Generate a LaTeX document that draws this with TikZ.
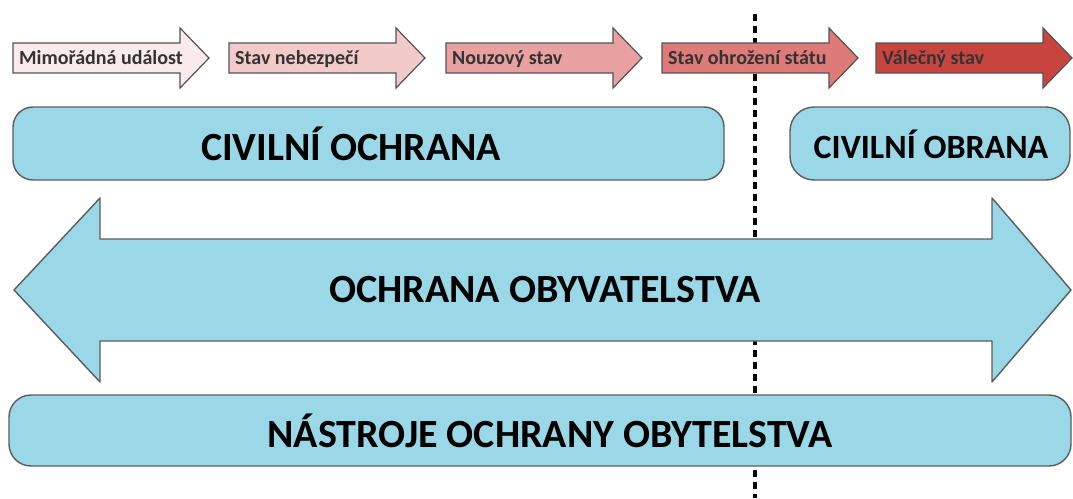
\documentclass[tikz,border=0pt]{standalone}
\usepackage{fontspec}
\setmainfont{Carlito}
\usepackage{tikz}
\usepackage{xcolor}

\definecolor{stepA}{HTML}{F9EBEB}
\definecolor{stepB}{HTML}{F3CACA}
\definecolor{stepC}{HTML}{E8A1A0}
\definecolor{stepD}{HTML}{DE7A78}
\definecolor{stepE}{HTML}{C8443F}
\definecolor{boxblue}{HTML}{9AD8E8}
\definecolor{boxline}{HTML}{5C5C5C}

\tikzset{
  steparrow/.style={draw=boxline!90!black, line width=1.2pt, line join=miter},
  steptext/.style={anchor=base west, inner sep=0pt, text=black!80, font=\fontsize{20}{22}\selectfont\bfseries},
  bluebox/.style={draw=boxline, fill=boxblue, line width=1.4pt, rounded corners=#1},
  bigtext/.style={inner sep=0pt, font=\fontsize{40}{44}\selectfont\bfseries},
  divider/.style={line width=3.5pt, dash pattern=on 7pt off 5pt}
}

\begin{document}
\begin{tikzpicture}[x=1pt, y=-1pt]
\useasboundingbox (0,0) rectangle (1073,498);
%% dividing line (behind everything)
\coordinate (divTop) at (755,14);
\coordinate (divBot) at (755,498);
\draw[divider] (divTop) -- (divBot);
%% steps of the crisis
\foreach \x/\c/\t [count=\i] in {13/stepA/{Mimořádná událost}, 229/stepB/{Stav nebezpečí},
    446/stepC/{Nouzový stav}, 662/stepD/{Stav ohrožení státu}, 876/stepE/{Válečný stav}}{
  \filldraw[steparrow, fill=\c] (\x,43) -- ++(167,0) -- ++(0,-15) -- ++(29,30)
     -- ++(-29,30) -- ++(0,-15) -- ++(-167,0) -- cycle;
  \node[steptext] (step\i) at (\x+6,64) {\t};
}
%% civil protection / civil defence
\draw[bluebox=20pt] (13,107) rectangle (724,180);
\node[bigtext] (civOchrana) at (351,144) {CIVILNÍ OCHRANA};
\draw[bluebox=24pt] (790,107) rectangle (1070,180);
\node[bigtext, font=\fontsize{34}{38}\selectfont\bfseries] (civObrana) at (931,144) {CIVILNÍ OBRANA};
%% population protection
\filldraw[draw=boxline, fill=boxblue, line width=1.4pt, line join=round]
  (14,290) -- (100,198) -- (100,239) -- (992,239) -- (992,198) -- (1071,290)
  -- (992,382) -- (992,341) -- (100,341) -- (100,382) -- cycle;
\node[bigtext] (ochranaObyv) at (545,290) {OCHRANA OBYVATELSTVA};
%% tools
\draw[bluebox=22pt] (9,395) rectangle (1071,466);
\node[bigtext] (nastroje) at (550,431) {NÁSTROJE OCHRANY OBYTELSTVA};

\end{tikzpicture}
\end{document}
